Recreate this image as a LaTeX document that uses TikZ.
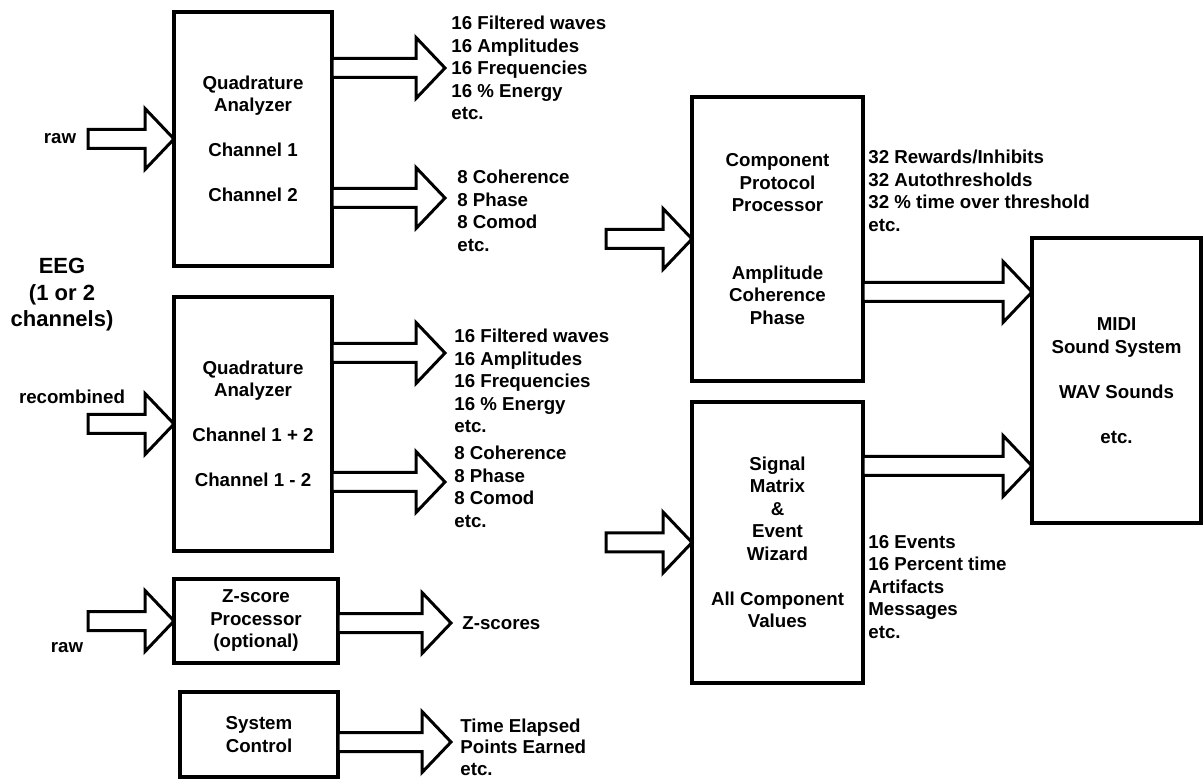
\documentclass[tikz,border=0pt]{standalone}
\usepackage{fontspec}
\setmainfont{Liberation Sans}
\usetikzlibrary{calc}
\newcommand{\lbl}{\fontsize{9.35pt}{11.25pt}\selectfont\bfseries}
\tikzset{
  box/.style     = {rectangle, draw=black, line width=1.6pt, outer sep=0pt,
                    inner sep=0pt, align=center, font=\lbl},
  list/.style    = {anchor=west, align=left, inner sep=0pt, font=\lbl},
  tag/.style     = {inner sep=0pt, align=center, font=\lbl},
  fatline/.style = {draw=black, line width=1.5pt, fill=white, line join=miter},
}
% hollow block arrow: horizontal at the height of #1, tip at the x of #2
\newcommand{\fatarrow}[2]{%
  \draw[fatline] let \p1=(#1), \p2=(#2) in
    (\x1,\y1+4.75pt) -- (\x2-14.5pt,\y1+4.75pt) -- (\x2-14.5pt,\y1+15.25pt)
    -- (\x2,\y1) -- (\x2-14.5pt,\y1-15.25pt) -- (\x2-14.5pt,\y1-4.75pt)
    -- (\x1,\y1-4.75pt) -- cycle;}

\begin{document}
\begin{tikzpicture}[x=0.5pt, y=-0.5pt]
  \useasboundingbox (0,0) rectangle (1203,779);

  % EEG inputs
  \node[tag, font=\fontsize{11pt}{13.25pt}\selectfont\bfseries] (eeg) at (62,295) {EEG\\(1 or 2\\channels)};
  \node[tag] (raw1) at (60,139) {raw};
  \node[tag] (recomb) at (72,397) {recombined};
  \node[tag] (raw2) at (67,648) {raw};

  % analyzers
  \node[box, minimum width=79pt, minimum height=127pt] (q1) at (253,139)
       {Quadrature\\Analyzer\\[11.25pt]Channel 1\\[11.25pt]Channel 2};
  \node[box, minimum width=79pt, minimum height=127pt] (q2) at (253,424)
       {Quadrature\\Analyzer\\[11.25pt]Channel 1 + 2\\[11.25pt]Channel 1 - 2};
  \node[box, minimum width=82pt, minimum height=42pt] (zproc) at (256,621)
       {Z-score\\Processor\\(optional)};
  \node[box, minimum width=79pt, minimum height=42.5pt] (sysctl) at (259,734.5)
       {System\\Control};

  % outputs of the analyzers
  \node[list] (q1amp) at (451,68) {16 Filtered waves\\16 Amplitudes\\16 Frequencies\\16 \% Energy\\etc.};
  \node[list] (q1coh) at (457,211) {8 Coherence\\8 Phase\\8 Comod\\etc.};
  \node[list] (q2amp) at (454,381) {16 Filtered waves\\16 Amplitudes\\16 Frequencies\\16 \% Energy\\etc.};
  \node[list] (q2coh) at (454,487) {8 Coherence\\8 Phase\\8 Comod\\etc.};
  \node[list] (zout) at (462,623) {Z-scores};
  \node[list, font=\fontsize{9.35pt}{10.8pt}\selectfont\bfseries] (sysout) at (460,747) {Time Elapsed\\Points Earned\\etc.};

  % processors
  \node[box, minimum width=85.5pt, minimum height=142pt] (cpp) at (777.5,239)
       {Component\\Protocol\\Processor\\[22.5pt]Amplitude\\Coherence\\Phase};
  \node[box, minimum width=85.5pt, minimum height=140.5pt] (sme) at (777.5,542.5)
       {Signal\\Matrix\\\&\\Event\\Wizard\\[11.25pt]All Component\\Values};
  \node[list] (cppout) at (868,191) {32 Rewards/Inhibits\\32 Autothresholds\\32 \% time over threshold\\etc.};
  \node[list] (smeout) at (868,587) {16 Events\\16 Percent time\\Artifacts\\Messages\\etc.};

  % sound
  \node[box, minimum width=84.5pt, minimum height=142.5pt] (midi) at (1116.5,380.5)
       {MIDI\\Sound System\\[11.25pt]WAV Sounds\\[11.25pt]etc.};

  % arrows in
  \fatarrow{[xshift=-43pt]q1.west}{q1.west}
  \fatarrow{[xshift=-43pt]q2.west}{q2.west}
  \fatarrow{[xshift=-43pt]zproc.west}{zproc.west}
  \fatarrow{[xshift=-43pt]cpp.west}{cpp.west}
  \fatarrow{[xshift=-43pt]sme.west}{sme.west}

  % arrows out
  \fatarrow{q1.east |- 0,68}{[xshift=-3pt]q1amp.west}
  \fatarrow{q1.east |- 0,198}{[xshift=-6pt]q1coh.west}
  \fatarrow{q2.east |- 0,353}{[xshift=-4.5pt]q2amp.west}
  \fatarrow{q2.east |- 0,482}{[xshift=-4.5pt]q2coh.west}
  \fatarrow{zproc.east |- 0,623}{[xshift=-5.5pt]zout.west}
  \fatarrow{sysctl.east |- 0,742}{[xshift=-4.5pt]sysout.west}
  \fatarrow{cpp.east |- 0,292}{midi.west}
  \fatarrow{sme.east |- 0,466}{midi.west}

\end{tikzpicture}
\end{document}
